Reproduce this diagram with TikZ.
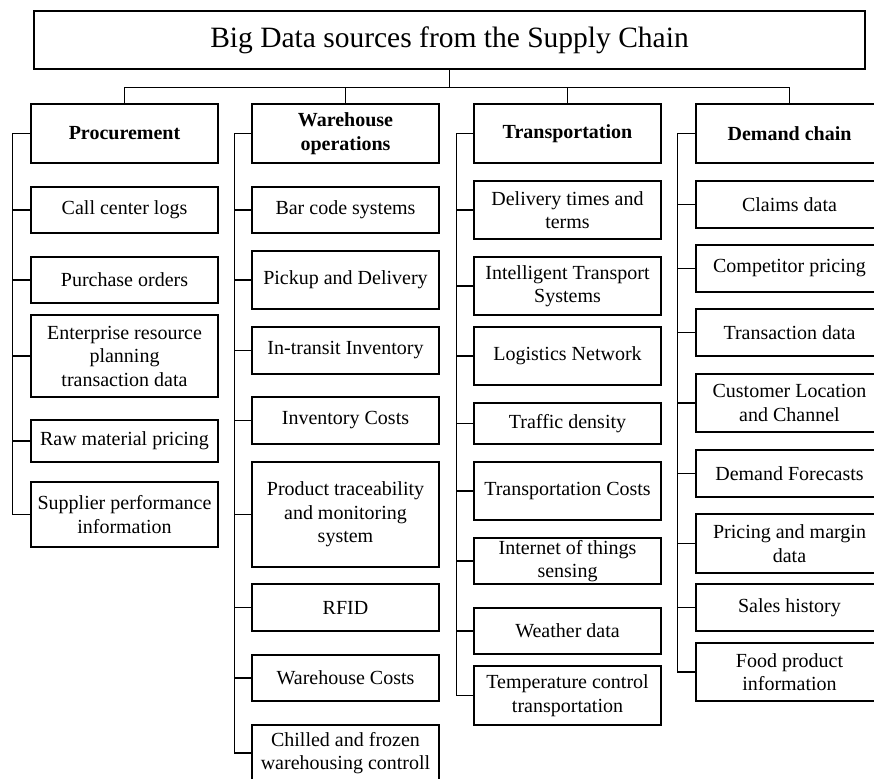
\documentclass[tikz,border=0pt]{standalone}
\usepackage{fontspec}
\setmainfont{Liberation Serif}
\begin{document}
\begin{tikzpicture}[x=1pt,y=-1pt,line width=1.1pt,
    box/.style={draw,inner sep=0pt,align=center,minimum width=187pt,
      font=\fontsize{20}{23.5}\selectfont},
    cat/.style={box,minimum height=59pt,font=\fontsize{20}{23.5}\selectfont\bfseries}]
  \clip (0,0) rectangle (874,778);
  \node[draw,inner sep=0pt,minimum width=831pt,minimum height=58pt,
    font=\fontsize{29.5}{34}\selectfont] (title) at (449.5,40) {Big Data sources from the Supply Chain};
  % categories
  \node[cat] (proc) at (124.5,133.5) {Procurement};
  \node[cat] (ware) at (345.5,133.5) {Warehouse\\operations};
  \node[cat] (trans) at (567.5,133.5) {Transportation};
  \node[cat] (dem) at (789.5,133.5) {Demand chain};
  \foreach \c in {proc,ware,trans,dem}
    \draw (title.south) -- ++(0,18) -| (\c.north);
  % procurement
  \node[box,minimum height=46pt] (p1) at (124.5,210) {Call center logs};
  \node[box,minimum height=46pt] (p2) at (124.5,280) {Purchase orders};
  \node[box,minimum height=82pt] (p3) at (124.5,356) {Enterprise resource\\planning\\transaction data};
  \node[box,minimum height=42pt] (p4) at (124.5,441) {Raw material pricing};
  \node[box,minimum height=65pt] (p5) at (124.5,514.5) {Supplier performance\\information};
  % warehouse operations
  \node[box,minimum height=46pt] (w1) at (345.5,210) {Bar code systems};
  \node[box,minimum height=58pt] (w2) at (345.5,280) {Pickup and Delivery};
  \node[box,minimum height=47pt] (w3) at (345.5,350.5) {In-transit Inventory};
  \node[box,minimum height=47pt] (w4) at (345.5,420.5) {Inventory Costs};
  \node[box,minimum height=105pt] (w5) at (345.5,514.5) {Product traceability\\and monitoring\\system};
  \node[box,minimum height=47pt] (w6) at (345.5,607.5) {RFID};
  \node[box,minimum height=46pt] (w7) at (345.5,678) {Warehouse Costs};
  \node[box,minimum height=56pt] (w8) at (345.5,753) {Chilled and frozen\\warehousing controll};
  % transportation
  \node[box,minimum height=58pt] (t1) at (567.5,210) {Delivery times and\\terms};
  \node[box,minimum height=58pt] (t2) at (567.5,286) {Intelligent Transport\\Systems};
  \node[box,minimum height=58pt] (t3) at (567.5,356) {Logistics Network};
  \node[box,minimum height=41pt] (t4) at (567.5,423.5) {Traffic density};
  \node[box,minimum height=58pt] (t5) at (567.5,491) {Transportation Costs};
  \node[box,minimum height=46pt] (t6) at (567.5,561) {Internet of things\\sensing};
  \node[box,minimum height=46pt] (t7) at (567.5,631) {Weather data};
  \node[box,minimum height=59pt] (t8) at (567.5,695.5) {Temperature control\\transportation};
  % demand chain
  \node[box,minimum height=47pt] (d1) at (789.5,204.5) {Claims data};
  \node[box,minimum height=47pt] (d2) at (789.5,268.5) {Competitor pricing};
  \node[box,minimum height=47pt] (d3) at (789.5,332.5) {Transaction data};
  \node[box,minimum height=58pt] (d4) at (789.5,403) {Customer Location\\and Channel};
  \node[box,minimum height=47pt] (d5) at (789.5,473.5) {Demand Forecasts};
  \node[box,minimum height=59pt] (d6) at (789.5,543.5) {Pricing and margin\\data};
  \node[box,minimum height=47pt] (d7) at (789.5,607.5) {Sales history};
  \node[box,minimum height=58pt] (d8) at (789.5,672) {Food product\\information};
  % side connectors
  \foreach \c in {p1,p2,p3,p4,p5}
    \draw (proc.west) -- ++(-18,0) |- (\c.west);
  \foreach \c in {w1,w2,w3,w4,w5,w6,w7,w8}
    \draw (ware.west) -- ++(-17,0) |- (\c.west);
  \foreach \c in {t1,t2,t3,t4,t5,t6,t7,t8}
    \draw (trans.west) -- ++(-17,0) |- (\c.west);
  \foreach \c in {d1,d2,d3,d4,d5,d6,d7,d8}
    \draw (dem.west) -- ++(-18,0) |- (\c.west);
\end{tikzpicture}
\end{document}
